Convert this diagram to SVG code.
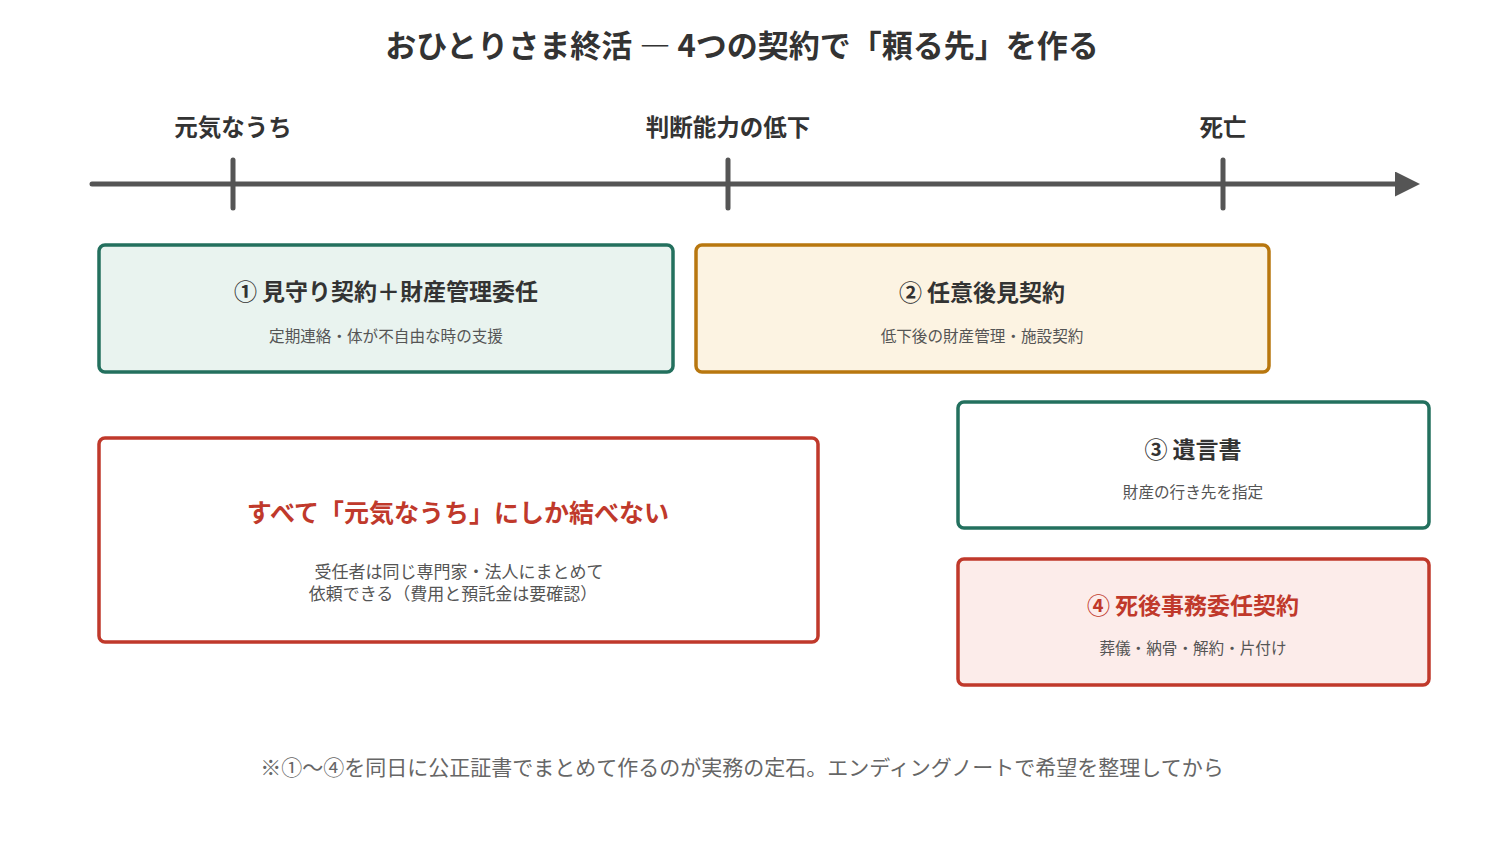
<svg xmlns="http://www.w3.org/2000/svg" width="1485" height="854" viewBox="0 0 1485 854">
<style>
text{font-family:"Noto Sans CJK JP","Noto Sans",sans-serif;text-anchor:middle}
.t{font-weight:bold;fill:#333}
.h{font-size:23px;font-weight:bold;fill:#333}
.l{font-size:23.5px;font-weight:bold;fill:#333}
.s{font-size:15.6px;fill:#555}
.r{fill:#c0392b}
.box{stroke-width:3.5}
</style>
<defs><marker id="ah" viewBox="0 0 10 10" refX="2" refY="5" markerWidth="5" markerHeight="5" orient="auto"><path d="M0,0L10,5L0,10z" fill="#555"/></marker></defs>
<rect width="1485" height="854" fill="#fff"/>
<text x="742" y="57" class="t" font-size="31">おひとりさま終活 ― 4つの契約で「頼る先」を作る</text>
<g id="connectors" stroke="#555" stroke-width="5" stroke-linecap="round">
<line x1="92" y1="184" x2="1400" y2="184" marker-end="url(#ah)"/>
<line x1="233" y1="160" x2="233" y2="208"/>
<line x1="728" y1="160" x2="728" y2="208"/>
<line x1="1223" y1="160" x2="1223" y2="208"/>
</g>
<text x="233" y="136" class="l">元気なうち</text>
<text x="728" y="136" class="l">判断能力の低下</text>
<text x="1223" y="136" class="l">死亡</text>
<g id="n1"><rect class="box" x="99" y="245" width="574" height="127" rx="6" fill="#e9f3ef" stroke="#23705e"/>
<text x="386" y="300" class="h">① 見守り契約＋財産管理委任</text><text x="386" y="342" class="s">定期連絡・体が不自由な時の支援</text></g>
<g id="n2"><rect class="box" x="696" y="245" width="573" height="127" rx="6" fill="#fcf3e2" stroke="#b8770f"/>
<text x="982" y="301" class="h">② 任意後見契約</text><text x="982" y="342" class="s">低下後の財産管理・施設契約</text></g>
<g id="n3"><rect class="box" x="958" y="402" width="471" height="126" rx="6" fill="#fff" stroke="#23705e"/>
<text x="1193" y="458" class="h">③ 遺言書</text><text x="1193" y="498" class="s">財産の行き先を指定</text></g>
<g id="n4"><rect class="box" x="958" y="559" width="471" height="126" rx="6" fill="#fcecea" stroke="#c0392b"/>
<text x="1193" y="614" class="h r">④ 死後事務委任契約</text><text x="1193" y="654" class="s">葬儀・納骨・解約・片付け</text></g>
<g id="n5"><rect class="box" x="99" y="438" width="719" height="204" rx="6" fill="#fff" stroke="#c0392b"/>
<text x="458" y="522" font-size="25" font-weight="bold" class="r">すべて「元気なうち」にしか結べない</text>
<text x="459" y="578" font-size="17" fill="#555">受任者は同じ専門家・法人にまとめて</text>
<text x="453" y="600" font-size="17" fill="#555">依頼できる（費用と預託金は要確認）</text></g>
<text x="742" y="775" font-size="21" fill="#666">※①〜④を同日に公正証書でまとめて作るのが実務の定石。エンディングノートで希望を整理してから</text>
</svg>
